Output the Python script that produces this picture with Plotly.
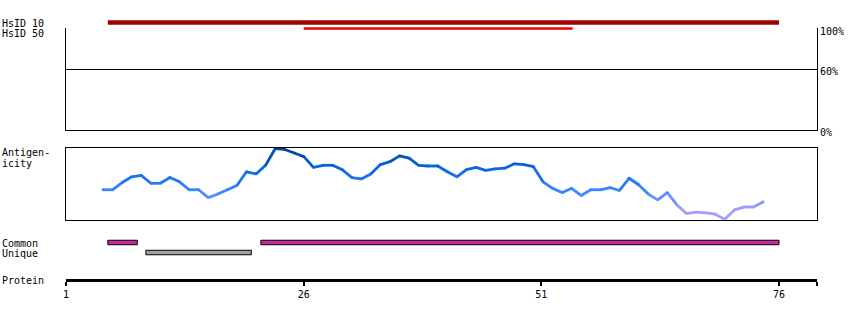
import plotly.graph_objects as go

# ---------------- data ----------------
hsid_rows = ["HsID 10", "HsID 50"]
hsid_start = [5.4, 26.0]
hsid_end = [76.0, 54.3]

track_rows = ["Common", "Unique"]
common_start = [5.4, 21.5]
common_end = [8.5, 76.0]
unique_start = [9.4]
unique_end = [20.5]

antigen_res = list(range(5, 75))
antigen_val = [42, 42, 52, 60, 62, 51, 51, 59, 53, 42,
               42, 31, 36, 42, 48, 67, 64, 76, 99, 98,
               93, 88, 73, 76, 76, 70, 59, 57, 64, 77,
               81, 89, 86, 76, 75, 75, 67, 60, 70, 73,
               69, 71, 72, 78, 77, 74, 53, 44, 38, 44,
               34, 42, 42, 45, 41, 58, 49, 36, 28, 38,
               21, 9, 11, 10, 8, 1, 14, 18, 18, 25]

protein_ticks = [1, 26, 51, 76, 80]
protein_ticktext = ["1", "26", "51", "76", ""]
identity_ticks = [0, 60, 100]
identity_ticktext = ["0%", "60%", "100%"]

# ---------------- helpers ----------------
W, H = 850, 320
FONT = dict(family="DejaVu Sans Mono", size=10, color="black")


def py(p):
    return (H - p) / H


XDOM = [66 / W, 817 / W]

stops = [(0, (170, 160, 255)), (20, (150, 155, 255)), (40, (60, 135, 255)),
         (60, (25, 112, 242)), (80, (0, 95, 215)), (100, (10, 60, 140))]


def color_for(v):
    for (a, ca), (b, cb) in zip(stops[:-1], stops[1:]):
        if v <= b:
            t = (v - a) / (b - a)
            c = [round(ca[k] + (cb[k] - ca[k]) * t) for k in range(3)]
            return "rgb(%d,%d,%d)" % tuple(c)
    return "rgb(%d,%d,%d)" % stops[-1][1]


fig = go.Figure()

# invisible trace so the identity panel renders
fig.add_trace(go.Scatter(x=[1, 80], y=[0, 0], mode="lines", line=dict(width=0),
                         xaxis="x", yaxis="y", hoverinfo="skip"))

# HsID bars
fig.add_trace(go.Bar(orientation="h", y=[hsid_rows[0]], base=[hsid_start[0]],
                     x=[hsid_end[0] - hsid_start[0]], width=[0.75],
                     marker=dict(color="#a00000", line=dict(width=0)),
                     xaxis="x", yaxis="y3", hoverinfo="skip"))
fig.add_trace(go.Bar(orientation="h", y=[hsid_rows[1]], base=[hsid_start[1]],
                     x=[hsid_end[1] - hsid_start[1]], width=[0.38],
                     marker=dict(color="#ee0000", line=dict(width=0)),
                     xaxis="x", yaxis="y3", hoverinfo="skip"))

# Common / Unique bars
fig.add_trace(go.Bar(orientation="h", y=["Common"] * len(common_start), base=common_start,
                     x=[e - s for s, e in zip(common_start, common_end)], width=0.45,
                     marker=dict(color="#c8289e", line=dict(color="black", width=1)),
                     xaxis="x", yaxis="y4", hoverinfo="skip"))
fig.add_trace(go.Bar(orientation="h", y=["Unique"] * len(unique_start), base=unique_start,
                     x=[e - s for s, e in zip(unique_start, unique_end)], width=0.45,
                     marker=dict(color="#a0a0a0", line=dict(color="black", width=1)),
                     xaxis="x", yaxis="y4", hoverinfo="skip"))

# Antigenicity line, coloured by value
for i in range(len(antigen_res) - 1):
    v = (antigen_val[i] + antigen_val[i + 1]) / 2
    fig.add_trace(go.Scatter(x=antigen_res[i:i + 2], y=antigen_val[i:i + 2],
                             mode="lines", line=dict(color=color_for(v), width=2.8),
                             xaxis="x2", yaxis="y2", hoverinfo="skip"))
fig.add_trace(go.Scatter(x=antigen_res, y=antigen_val, mode="markers",
                         marker=dict(size=2.8, color=[color_for(v) for v in antigen_val],
                                     line=dict(width=0)),
                         xaxis="x2", yaxis="y2", hoverinfo="skip"))

# Dummy trace to make the protein axis render
fig.add_trace(go.Scatter(x=[1, 80], y=[0, 0], mode="lines", line=dict(width=0),
                         xaxis="x3", yaxis="y5", hoverinfo="skip", showlegend=False))

box = dict(showline=True, mirror=True, linecolor="black", linewidth=1,
           showgrid=False, zeroline=False, ticks="", showticklabels=False)

fig.update_layout(
    width=W, height=H, margin=dict(l=0, r=0, t=0, b=0, pad=0, autoexpand=False),
    paper_bgcolor="white", plot_bgcolor="white",
    showlegend=False, barmode="overlay", font=FONT,
    xaxis=dict(domain=XDOM, range=[1, 80], anchor="y", **box),
    yaxis=dict(domain=[py(130), py(29)], range=[0, 100], anchor="x", side="right",
               showline=True, mirror=True, linecolor="black", linewidth=1,
               showgrid=True, gridcolor="black", gridwidth=1, zeroline=False,
               tickvals=identity_ticks, ticktext=identity_ticktext, ticks="",
               ticklabelshift=2, tickfont=FONT),
    xaxis2=dict(domain=XDOM, range=[1.132, 79.645], anchor="y2", **box),
    yaxis2=dict(domain=[py(220), py(148)], range=[0, 100], anchor="x2", **box),
    yaxis3=dict(domain=[py(31.5), py(19.5)], type="category", categoryarray=hsid_rows,
                range=[1.5, -0.5], anchor="x", visible=False),
    yaxis4=dict(domain=[py(257.5), py(237.5)], type="category", categoryarray=track_rows,
                range=[1.5, -0.5], anchor="x", visible=False),
    xaxis3=dict(domain=XDOM, range=[1, 80], anchor="y5", showline=True, linecolor="black",
                linewidth=3, ticks="outside", ticklen=4, tickwidth=2, tickcolor="black",
                tickvals=protein_ticks, ticktext=protein_ticktext, showgrid=False,
                zeroline=False, tickfont=FONT),
    yaxis5=dict(domain=[py(278.5), py(277)], anchor="x3", visible=False, range=[-1, 1]),
)

labels = [("HsID 10", 23), ("HsID 50", 33), ("Antigen-", 152.5), ("icity", 163),
          ("Common", 243), ("Unique", 253), ("Protein", 280)]
for txt, yc in labels:
    fig.add_annotation(text=txt, xref="paper", yref="paper", x=0, y=py(yc),
                       xanchor="left", yanchor="middle", showarrow=False, font=FONT,
                       borderpad=0, xshift=1)

fig.write_html("out.html")
